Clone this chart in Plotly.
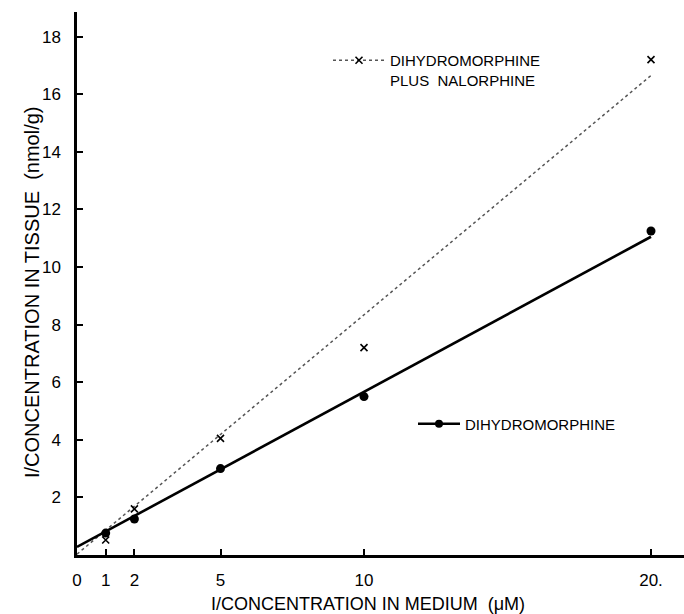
import plotly.graph_objects as go

# Data
conc_inv = [1, 2, 5, 10, 20]                      # 1/concentration in medium (uM)
dihydro = [0.76, 1.25, 3.0, 5.5, 11.25]           # dihydromorphine alone
dihydro_nal = [0.52, 1.6, 4.05, 7.2, 17.2]        # dihydromorphine plus nalorphine

fit_x = [0, 20]
fit_dihydro = [0.28, 11.05]
fit_dihydro_nal = [0.03, 16.65]

x_ticks = [0, 1, 2, 5, 10, 20]
x_ticktext = ["0", "1", "2", "5", "10", "20."]
y_ticks = [2, 4, 6, 8, 10, 12, 14, 16, 18]

FONT = "Liberation Sans"
W, H = 684, 614
L, R, T, B = 77, 0, 12, 59

fig = go.Figure()

# dihydromorphine plus nalorphine
fig.add_trace(go.Scatter(
    x=fit_x, y=fit_dihydro_nal, mode="lines",
    line=dict(color="#555555", width=1.5, dash="dot"),
    showlegend=False, hoverinfo="skip"))
fig.add_trace(go.Scatter(
    x=conc_inv, y=dihydro_nal, mode="markers",
    marker=dict(symbol="x-thin", size=7, line=dict(color="black", width=1.6)),
    showlegend=False))
# legend entry for nalorphine
fig.add_trace(go.Scatter(
    x=[None], y=[None], mode="lines+markers",
    line=dict(color="#555555", width=1.5, dash="dot"),
    marker=dict(symbol="x-thin", size=7, line=dict(color="black", width=1.6)),
    name="DIHYDROMORPHINE<br>PLUS\u00a0\u00a0NALORPHINE", legend="legend"))

# dihydromorphine
fig.add_trace(go.Scatter(
    x=fit_x, y=fit_dihydro, mode="lines",
    line=dict(color="black", width=2.6),
    showlegend=False, hoverinfo="skip"))
fig.add_trace(go.Scatter(
    x=conc_inv, y=dihydro, mode="markers",
    marker=dict(symbol="circle", size=9, color="black"),
    showlegend=False))
fig.add_trace(go.Scatter(
    x=[None], y=[None], mode="lines+markers",
    line=dict(color="black", width=2.6),
    marker=dict(symbol="circle", size=8, color="black"),
    name="DIHYDROMORPHINE", legend="legend2"))

pw = W - L - R
ph = H - T - B

def px_x(p):
    return (p - L) / pw

def px_y(p):
    return (H - B - p) / ph

fig.update_layout(
    width=W, height=H,
    margin=dict(l=L, r=R, t=T, b=B),
    paper_bgcolor="white", plot_bgcolor="white",
    font=dict(family=FONT, size=15, color="black"),
    xaxis=dict(range=[0, pw / 28.7], tickvals=x_ticks, ticktext=x_ticktext,
               showline=True, linewidth=2.5, linecolor="black",
               ticks="inside", ticklen=6, tickwidth=2, tickcolor="black",
               showgrid=False, zeroline=False, ticklabelstandoff=8,
               tickfont=dict(size=17)),
    yaxis=dict(range=[0, ph / 28.8], tickvals=y_ticks,
               showline=True, linewidth=2.5, linecolor="black",
               ticks="inside", ticklen=6, tickwidth=2, tickcolor="black",
               showgrid=False, zeroline=False, ticklabelstandoff=10,
               tickfont=dict(size=17)),
    legend=dict(x=px_x(328), y=px_y(44), xanchor="left", yanchor="top",
                bgcolor="rgba(0,0,0,0)", font=dict(size=15), valign="top",
                itemwidth=52),
    legend2=dict(x=px_x(413), y=px_y(424), xanchor="left", yanchor="middle",
                 bgcolor="rgba(0,0,0,0)", font=dict(size=15), itemwidth=42),
    annotations=[
        dict(text="I/CONCENTRATION IN MEDIUM\u00a0\u00a0(\u03bcM)", xref="paper", yref="paper",
             x=px_x(368), y=px_y(604), showarrow=False, font=dict(size=18),
             xanchor="center", yanchor="middle"),
        dict(text="I/CONCENTRATION IN TISSUE\u00a0\u00a0(nmol/g)", xref="paper", yref="paper",
             x=px_x(32), y=px_y(292), showarrow=False, font=dict(size=20),
             textangle=-90, xanchor="center", yanchor="middle"),
    ],
)

fig.write_html("out.html")
